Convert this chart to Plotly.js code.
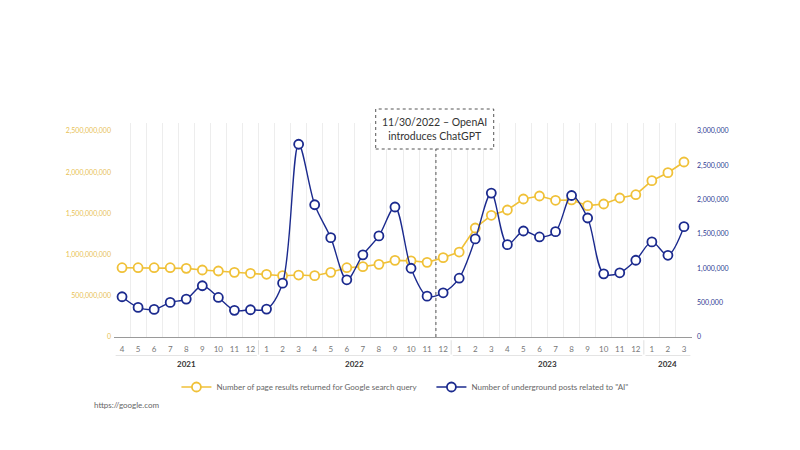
<!DOCTYPE html>
<html>
<head>
<meta charset="utf-8">
<script src="https://cdn.plot.ly/plotly-3.0.1.min.js"></script>
<style>
  html, body { margin: 0; padding: 0; background: #ffffff; }
  #chart { width: 800px; height: 450px; }
</style>
</head>
<body>
<div id="chart"></div>
<script>
// ---- Data ----
const months = ['4','5','6','7','8','9','10','11','12',
                '1','2','3','4','5','6','7','8','9','10','11','12',
                '1','2','3','4','5','6','7','8','9','10','11','12',
                '1','2','3'];
const years  = ['2021','2021','2021','2021','2021','2021','2021','2021','2021',
                '2022','2022','2022','2022','2022','2022','2022','2022','2022','2022','2022','2022',
                '2023','2023','2023','2023','2023','2023','2023','2023','2023','2023','2023','2023',
                '2024','2024','2024'];
const googleResults = [841e6, 841e6, 841e6, 841e6, 833e6, 813e6, 801e6, 785e6, 773e6,
                       761e6, 744e6, 752e6, 744e6, 785e6, 841e6, 854e6, 882e6, 930e6, 925e6, 906e6, 963e6,
                       1031e6, 1323e6, 1477e6, 1541e6, 1675e6, 1711e6, 1659e6, 1663e6, 1594e6, 1614e6, 1687e6, 1727e6,
                       1897e6, 1994e6, 2124e6];
const aiPosts = [586e3, 431e3, 402e3, 504e3, 552e3, 746e3, 576e3, 388e3, 397e3,
                 406e3, 784e3, 2807e3, 1926e3, 1447e3, 833e3, 1196e3, 1472e3, 1893e3, 1001e3, 595e3, 644e3,
                 856e3, 1428e3, 2096e3, 1345e3, 1544e3, 1457e3, 1534e3, 2061e3, 1733e3, 920e3, 935e3, 1118e3,
                 1385e3, 1190e3, 1607e3];
const leftTicks  = [0, 500e6, 1000e6, 1500e6, 2000e6, 2500e6];
const rightTicks = [0, 500e3, 1000e3, 1500e3, 2000e3, 2500e3, 3000e3];
const eventLabel = '11/30/2022 – OpenAI<br>introduces ChatGPT';
const eventMonthIndex = 19;      // 11/2022
const eventMonthFraction = 0.55; // end of November

const seriesNames = ['Number of page results returned for Google search query',
                     'Number of underground posts related to "AI"'];

// ---- Build ----
const idx = months.map((_, i) => i);
const YELLOW = '#f0c138';
const BLUE = '#1b2a8e';
const FONT = 'Lato, "Open Sans", sans-serif';
const HEADROOM = 214 / 206; // grid extends a little above the top tick

const traces = [
  {
    x: idx, y: googleResults, name: seriesNames[0], type: 'scatter', mode: 'lines+markers',
    line: {color: YELLOW, width: 1.6},
    marker: {symbol: 'circle', size: 9, color: '#ffffff', line: {color: YELLOW, width: 1.8}},
    yaxis: 'y', hoverinfo: 'skip'
  },
  {
    x: idx, y: aiPosts, name: seriesNames[1], type: 'scatter', mode: 'lines+markers',
    line: {color: BLUE, width: 1.4, shape: 'spline', smoothing: 0.9},
    marker: {symbol: 'circle', size: 9, color: '#ffffff', line: {color: BLUE, width: 1.8}},
    yaxis: 'y2', hoverinfo: 'skip'
  }
];

// year groups
const groups = [];
years.forEach((y, i) => {
  if (!groups.length || groups[groups.length - 1].year !== y) groups.push({year: y, first: i, last: i});
  else groups[groups.length - 1].last = i;
});

const shapes = [];
const annotations = [];
groups.forEach((g, gi) => {
  shapes.push({type: 'line', xref: 'x', yref: 'paper', x0: g.first - 0.4, x1: g.last + 0.4,
               y0: -0.0865, y1: -0.0865, line: {color: '#e4e4e4', width: 1}});
  annotations.push({xref: 'x', yref: 'paper', x: (g.first + g.last) / 2, y: -0.127,
                    text: '<b>' + g.year + '</b>', showarrow: false,
                    font: {family: FONT, size: 8, color: '#333333'}, yanchor: 'middle'});
  if (gi < groups.length - 1) {
    shapes.push({type: 'line', xref: 'x', yref: 'paper', x0: g.last + 0.5, x1: g.last + 0.5,
                 y0: -0.015, y1: -0.082, line: {color: '#e0e0e0', width: 1}});
  }
});

const eventX = eventMonthIndex + eventMonthFraction;
shapes.push({type: 'line', xref: 'x', yref: 'paper', x0: eventX, x1: eventX, y0: 0, y1: 0.8785,
             line: {color: '#555555', width: 1, dash: 'dot'}, layer: 'above'});
shapes.push({type: 'rect', xref: 'x', yref: 'paper', x0: eventX - 3.75, x1: eventX + 3.6,
             y0: 0.8785, y1: 1.0654, fillcolor: '#ffffff',
             line: {color: '#555555', width: 1, dash: 'dot'}, layer: 'above'});
annotations.push({xref: 'x', yref: 'paper', x: eventX - 0.07, y: 0.972, text: eventLabel,
                  showarrow: false, align: 'center', yanchor: 'middle',
                  font: {family: FONT, size: 10.5, color: '#333333'}});
annotations.push({xref: 'paper', yref: 'paper', x: -0.038, y: -0.318, xanchor: 'left', yanchor: 'middle',
                  text: 'https://google.com', showarrow: false,
                  font: {family: FONT, size: 8, color: '#666666'}});

const layout = {
  width: 800, height: 450, autosize: false,
  margin: {l: 114, r: 108, t: 123, b: 113, pad: 0},
  paper_bgcolor: '#ffffff', plot_bgcolor: '#ffffff',
  font: {family: FONT, color: '#777777'},
  showlegend: true,
  legend: {orientation: 'h', x: 0.108, xanchor: 'left', y: -0.2336, yanchor: 'middle',
           font: {family: FONT, size: 8, color: '#666666'}, entrywidth: 210, itemwidth: 30,
           bgcolor: 'rgba(0,0,0,0)'},
  xaxis: {
    range: [-0.5, months.length - 0.5], tickmode: 'array', tickvals: idx, ticktext: months,
    showgrid: false, zeroline: false, showline: true, linecolor: '#9a9a9a', linewidth: 1,
    ticks: '', ticklabelstandoff: 4, tickfont: {family: FONT, size: 8, color: '#777777'},
    minor: {tick0: 0.5, dtick: 1, showgrid: true, gridcolor: '#ededed', gridwidth: 1, ticks: ''},
    fixedrange: true
  },
  yaxis: {
    range: [0, 2500e6 * HEADROOM], tickmode: 'array', tickvals: leftTicks,
    ticktext: leftTicks.map(v => v.toLocaleString('en-US')),
    showgrid: false, zeroline: false, showline: false, ticks: '',
    tickfont: {family: FONT, size: 7, color: '#e8bf55'}, ticklabelstandoff: 2, fixedrange: true
  },
  yaxis2: {
    range: [0, 3000e3 * HEADROOM], overlaying: 'y', side: 'right', tickmode: 'array', tickvals: rightTicks,
    ticktext: rightTicks.map(v => v.toLocaleString('en-US')),
    showgrid: false, zeroline: false, showline: false, ticks: '',
    tickfont: {family: FONT, size: 7, color: '#2f3b92'}, ticklabelstandoff: 4, fixedrange: true
  },
  shapes: shapes,
  annotations: annotations
};

Plotly.newPlot('chart', traces, layout, {displayModeBar: false, staticPlot: true});
</script>
</body>
</html>
